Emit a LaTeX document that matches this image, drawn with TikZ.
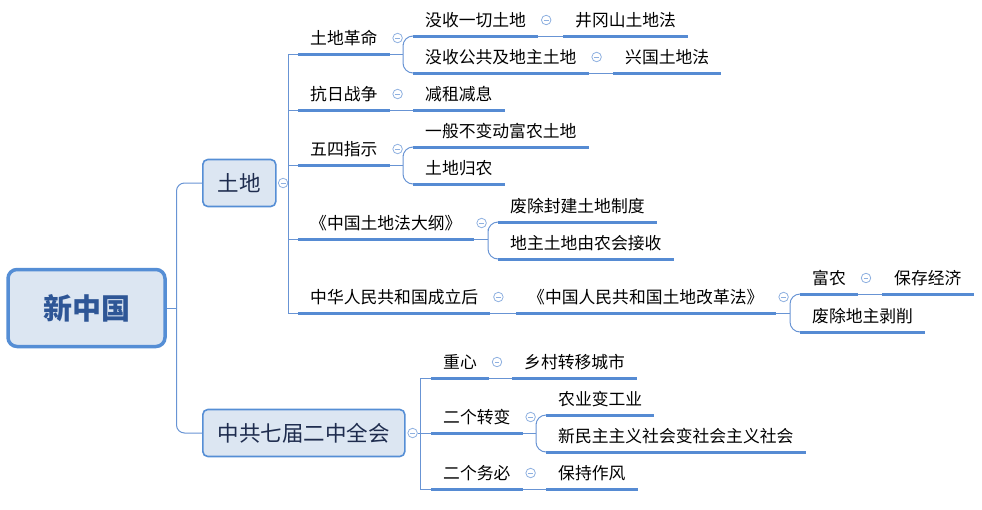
\documentclass[tikz,border=0pt]{standalone}
\usepackage{fontspec}
\setmainfont{Noto Sans CJK SC}
\usetikzlibrary{calc,positioning}

\definecolor{linec}{RGB}{104,148,212}
\definecolor{ulc}{RGB}{86,139,211}
\definecolor{boxfill}{RGB}{220,230,242}
\definecolor{boxline}{RGB}{85,142,213}
\definecolor{foldc}{RGB}{142,176,224}
\definecolor{boxtext}{RGB}{30,44,78}
\definecolor{roottext}{RGB}{46,86,150}

\tikzset{
  link/.style={draw=linec,line width=1pt},
  uline/.style={draw=ulc,line width=3pt},
  topic/.style={anchor=south west,inner xsep=12pt,inner ysep=6.2pt,
    text height=12pt,text depth=3.5pt,font=\fontsize{16.8}{18}\selectfont},
  mainbox/.style={draw=boxline,fill=boxfill,line width=1.6pt,rounded corners=5pt,
    minimum height=47pt,inner xsep=15pt,text=boxtext,
    font=\fontsize{21.5}{24}\selectfont},
  rootbox/.style={draw=boxline,fill=boxfill,line width=3.5pt,rounded corners=9pt,
    minimum width=157pt,minimum height=77pt,text=roottext,
    font=\fontsize{29}{32}\selectfont\bfseries},
  fold/.style={circle,draw=foldc,fill=white,line width=0.8pt,minimum size=9.5pt,inner sep=0pt,
    path picture={\draw[foldc,line width=0.8pt]
      ([xshift=-2.4pt]path picture bounding box.center) -- ([xshift=2.4pt]path picture bounding box.center);}}
}

\begin{document}
\begin{tikzpicture}[x=1pt,y=-1pt]
  \useasboundingbox (0,0) rectangle (982,509);

  \node[rootbox] (root) at (86.5,308) {新中国};
  \node[mainbox,anchor=west] (tudi) at (202,183) {土地};
  \node[mainbox,anchor=west] (zg) at (202,433) {中共七届二中全会};

  \node[topic] (n1) at (298,54) {土地革命};
  \node[topic] (n11) at (413,36) {没收一切土地};
  \node[topic] (n111) at (563,36) {井冈山土地法};
  \node[topic] (n12) at (413,73) {没收公共及地主土地};
  \node[topic] (n121) at (613,73) {兴国土地法};
  \node[topic] (n2) at (298,110) {抗日战争};
  \node[topic] (n21) at (413,110) {减租减息};
  \node[topic] (n3) at (298,165) {五四指示};
  \node[topic] (n31) at (413,147) {一般不变动富农土地};
  \node[topic] (n32) at (413,184) {土地归农};
  \node[topic] (n4) at (298,239) {《中国土地法大纲》};
  \node[topic] (n41) at (498,222) {废除封建土地制度};
  \node[topic] (n42) at (498,259) {地主土地由农会接收};
  \node[topic] (n5) at (298,313) {中华人民共和国成立后};
  \node[topic] (n51) at (516,313) {《中国人民共和国土地改革法》};
  \node[topic] (n511) at (800,294) {富农};
  \node[topic] (n5111) at (882,294) {保存经济};
  \node[topic] (n512) at (800,332) {废除地主剥削};

  \node[topic] (m1) at (431,378) {重心};
  \node[topic] (m11) at (512,378) {乡村转移城市};
  \node[topic] (m2) at (431,433) {二个转变};
  \node[topic] (m21) at (546,415) {农业变工业};
  \node[topic] (m22) at (546,452) {新民主主义社会变社会主义社会};
  \node[topic] (m3) at (431,489) {二个务必};
  \node[topic] (m31) at (546,489) {保持作风};

  \coordinate (r0) at (176.5,308);
  \draw[link] (root.east) -- (r0);
  \draw[link,rounded corners=8pt] (tudi.west) -| (r0) |- (zg.west);

  \node[fold] (ftudi) at ([xshift=6.5pt]tudi.east) {};
  \node[fold] (fzg) at ([xshift=7pt]zg.east) {};

  \coordinate (t0) at (288.5,183);
  \draw[link] (ftudi.east) -- (t0);
  \draw[link] (n1.south west) -| (t0) |- (n5.south west);
  \foreach \n in {n2,n3,n4}
    \draw[link] (t0 |- \n.south west) -- (\n.south west);

  \coordinate (z0) at (420.7,433);
  \draw[link] (fzg.east) -- (z0);
  \draw[link] (m1.south west) -| (z0) |- (m3.south west);
  \draw[link] (z0) -- (m2.south west);

  \foreach \p/\a/\b in {n1/n11/n12,n3/n31/n32,n4/n41/n42,n51/n511/n512,m2/m21/m22}{
    \coordinate (b\p) at ($(\a.south west |- \p.south east)+(-10pt,0)$);
    \draw[link] (\p.south east) -- (b\p);
    \draw[link,rounded corners=10pt] (\a.south west) -| (b\p) |- (\b.south west);
  }

  \foreach \a/\b in {n11/n111,n12/n121,n2/n21,n5/n51,n511/n5111,m1/m11,m3/m31}
    \draw[link] (\a.south east) -- (\b.south west);

  \foreach \n in {n1,n11,n111,n12,n121,n2,n21,n3,n31,n32,n4,n41,n42,n5,n51,n511,n5111,n512,m1,m11,m2,m21,m22,m3,m31}
    \draw[uline] (\n.south west) -- (\n.south east);

  \foreach \n in {n1,n11,n12,n2,n3,n4,n5,n51,n511,m1,m2,m3}
    \node[fold] (f\n) at ([shift={(8pt,16pt)}]\n.south east) {};
\end{tikzpicture}
\end{document}
